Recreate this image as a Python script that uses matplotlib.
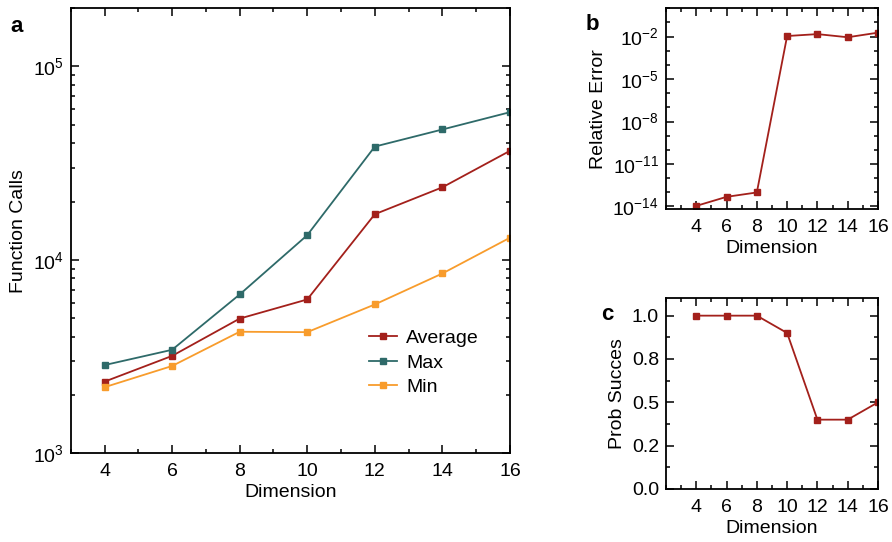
import numpy as np
import matplotlib
matplotlib.use("Agg")
import matplotlib.pyplot as plt
from matplotlib.ticker import (FixedLocator, MultipleLocator, FormatStrFormatter,
                               LogFormatterSciNotation, NullFormatter)

plt.rcParams['font.family'] = ['Liberation Sans', 'DejaVu Sans']
plt.rcParams['mathtext.fontset'] = 'custom'
plt.rcParams['mathtext.rm'] = 'Liberation Sans'
plt.rcParams['mathtext.it'] = 'Liberation Sans'
plt.rcParams['font.size'] = 14

# data
dimension = [4, 6, 8, 10, 12, 14, 16]
calls_avg = [2340, 3180, 4960, 6230, 17200, 23700, 36600]
calls_max = [2850, 3420, 6610, 13400, 38500, 47200, 58000]
calls_min = [2190, 2820, 4240, 4220, 5870, 8490, 13000]
rel_error = [1.1e-14, 4.8e-14, 9.8e-14, 1.1e-2, 1.5e-2, 9e-3, 1.9e-2]
prob_success = [1.0, 1.0, 1.0, 0.9, 0.4, 0.4, 0.5]

red = '#a3201b'
teal = '#2e6a69'
orange = '#f89c2c'


def style_ticks(ax):
    ax.tick_params(which='both', direction='in', top=True, right=True, labelsize=14, width=1.1)
    ax.tick_params(which='major', length=6)
    ax.tick_params(which='minor', length=3)
    ax.tick_params(axis='x', pad=7)
    ax.tick_params(axis='y', pad=5)
    for s in ax.spines.values():
        s.set_linewidth(1.3)


fig = plt.figure(figsize=(8.92, 5.42), dpi=100)

# panel a
ax1 = fig.add_axes([0.0793, 0.1642, 0.4924, 0.8205])
ax1.plot(dimension, calls_avg, '-s', color=red, ms=4, lw=1.3, label='Average')
ax1.plot(dimension, calls_max, '-s', color=teal, ms=4, lw=1.3, label='Max')
ax1.plot(dimension, calls_min, '-s', color=orange, ms=4, lw=1.3, label='Min')
ax1.set_yscale('log')
ax1.set_xlim(3, 16)
ax1.set_ylim(1e3, 2e5)
ax1.set_xticks(dimension)
ax1.xaxis.set_minor_locator(MultipleLocator(1))
ax1.set_xlabel('Dimension', labelpad=3)
ax1.set_ylabel('Function Calls', labelpad=4)
style_ticks(ax1)
ax1.legend(loc='upper left', bbox_to_anchor=(0.64, 0.317), frameon=False,
           handlelength=1.4, handletextpad=0.5, labelspacing=0.35, fontsize=14)
fig.text(0.012, 0.941, 'a', fontsize=16, fontweight='bold')

# panel b
ax2 = fig.add_axes([0.7466, 0.6138, 0.2377, 0.3709])
ax2.plot(dimension, rel_error, '-s', color=red, ms=4, lw=1.3)
ax2.set_yscale('log')
ax2.set_xlim(2, 16)
ax2.set_ylim(10 ** -14.2, 1)
ax2.yaxis.set_major_locator(FixedLocator([1e-14, 1e-11, 1e-8, 1e-5, 1e-2]))
ax2.yaxis.set_major_formatter(LogFormatterSciNotation())
ax2.yaxis.set_minor_locator(FixedLocator([10.0 ** k for k in range(-14, 1)]))
ax2.yaxis.set_minor_formatter(NullFormatter())
ax2.set_xticks(dimension)
ax2.xaxis.set_minor_locator(MultipleLocator(1))
ax2.set_xlabel('Dimension', labelpad=3)
ax2.set_ylabel('Relative Error', labelpad=4)
style_ticks(ax2)
fig.text(0.656, 0.945, 'b', fontsize=16, fontweight='bold')

# panel c
ax3 = fig.add_axes([0.7466, 0.0978, 0.2377, 0.3518])
ax3.plot(dimension, prob_success, '-s', color=red, ms=4, lw=1.3)
ax3.set_xlim(2, 16)
ax3.set_ylim(0, 1.1)
ax3.set_yticks([0, 0.25, 0.5, 0.75, 1.0])
ax3.yaxis.set_major_formatter(FormatStrFormatter('%.1f'))
ax3.yaxis.set_minor_locator(MultipleLocator(0.125))
ax3.set_xticks(dimension)
ax3.xaxis.set_minor_locator(MultipleLocator(1))
ax3.set_xlabel('Dimension', labelpad=3)
ax3.set_ylabel('Prob Succes', labelpad=4)
style_ticks(ax3)
fig.text(0.674, 0.41, 'c', fontsize=16, fontweight='bold')

fig.savefig('out.png', dpi=100)
